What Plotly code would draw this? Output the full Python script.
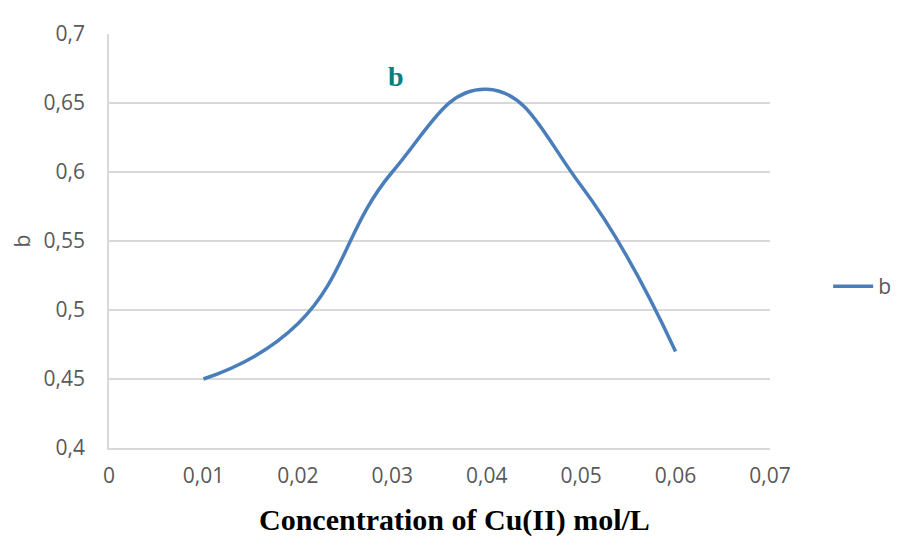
import plotly.graph_objects as go

# Cu(II) concentration (mol/L) vs parameter b
concentration = [0.01, 0.02, 0.03, 0.04, 0.05, 0.06]
b_values = [0.45, 0.49, 0.60, 0.66, 0.59, 0.47]

x_ticks = [0, 0.01, 0.02, 0.03, 0.04, 0.05, 0.06, 0.07]
y_ticks = [0.4, 0.45, 0.5, 0.55, 0.6, 0.65, 0.7]

fig = go.Figure()
fig.add_trace(go.Scatter(
    x=concentration, y=b_values, mode='lines', name='b',
    line=dict(color='#4A7EBB', width=3.5, shape='spline', smoothing=1.3)
))

tick_font = dict(family='Open Sans', size=21, color='#595959')

# page body has an 8px margin, so the figure is sized 8px smaller
fig.update_layout(
    width=908, height=541,
    margin=dict(l=101, r=146, t=26, b=101),
    paper_bgcolor='white', plot_bgcolor='white',
    separators=', ',
    showlegend=True,
    legend=dict(x=1.088, y=0.39, xanchor='left', yanchor='middle',
                itemwidth=40, font=tick_font, bgcolor='rgba(0,0,0,0)'),
    xaxis=dict(range=[0, 0.07], tickvals=x_ticks, showgrid=False,
               showline=True, linecolor='#D9D9D9', linewidth=1.5,
               ticks='', tickfont=tick_font, zeroline=False,
               ticklabelstandoff=8, automargin=False),
    yaxis=dict(range=[0.4, 0.7], tickvals=y_ticks, showgrid=True,
               gridcolor='#D9D9D9', gridwidth=1.5,
               showline=True, linecolor='#D9D9D9', linewidth=1.5,
               ticks='', tickfont=tick_font, zeroline=False,
               ticklabelstandoff=18, automargin=False,
               title=dict(text='b', font=tick_font, standoff=17)),
)

fig.add_annotation(text='<b>Concentration of Cu(II) mol/L</b>',
                   x=0.5234, y=-0.174, xref='paper', yref='paper',
                   showarrow=False, xanchor='center', yanchor='middle',
                   font=dict(family='Liberation Serif', size=30, color='black'))

fig.add_annotation(text='<b>b</b>', x=0.0304, y=0.669, xref='x', yref='y',
                   showarrow=False, xanchor='center', yanchor='middle',
                   font=dict(family='Liberation Serif', size=28, color='#00807F'))

fig.write_html("out.html")
